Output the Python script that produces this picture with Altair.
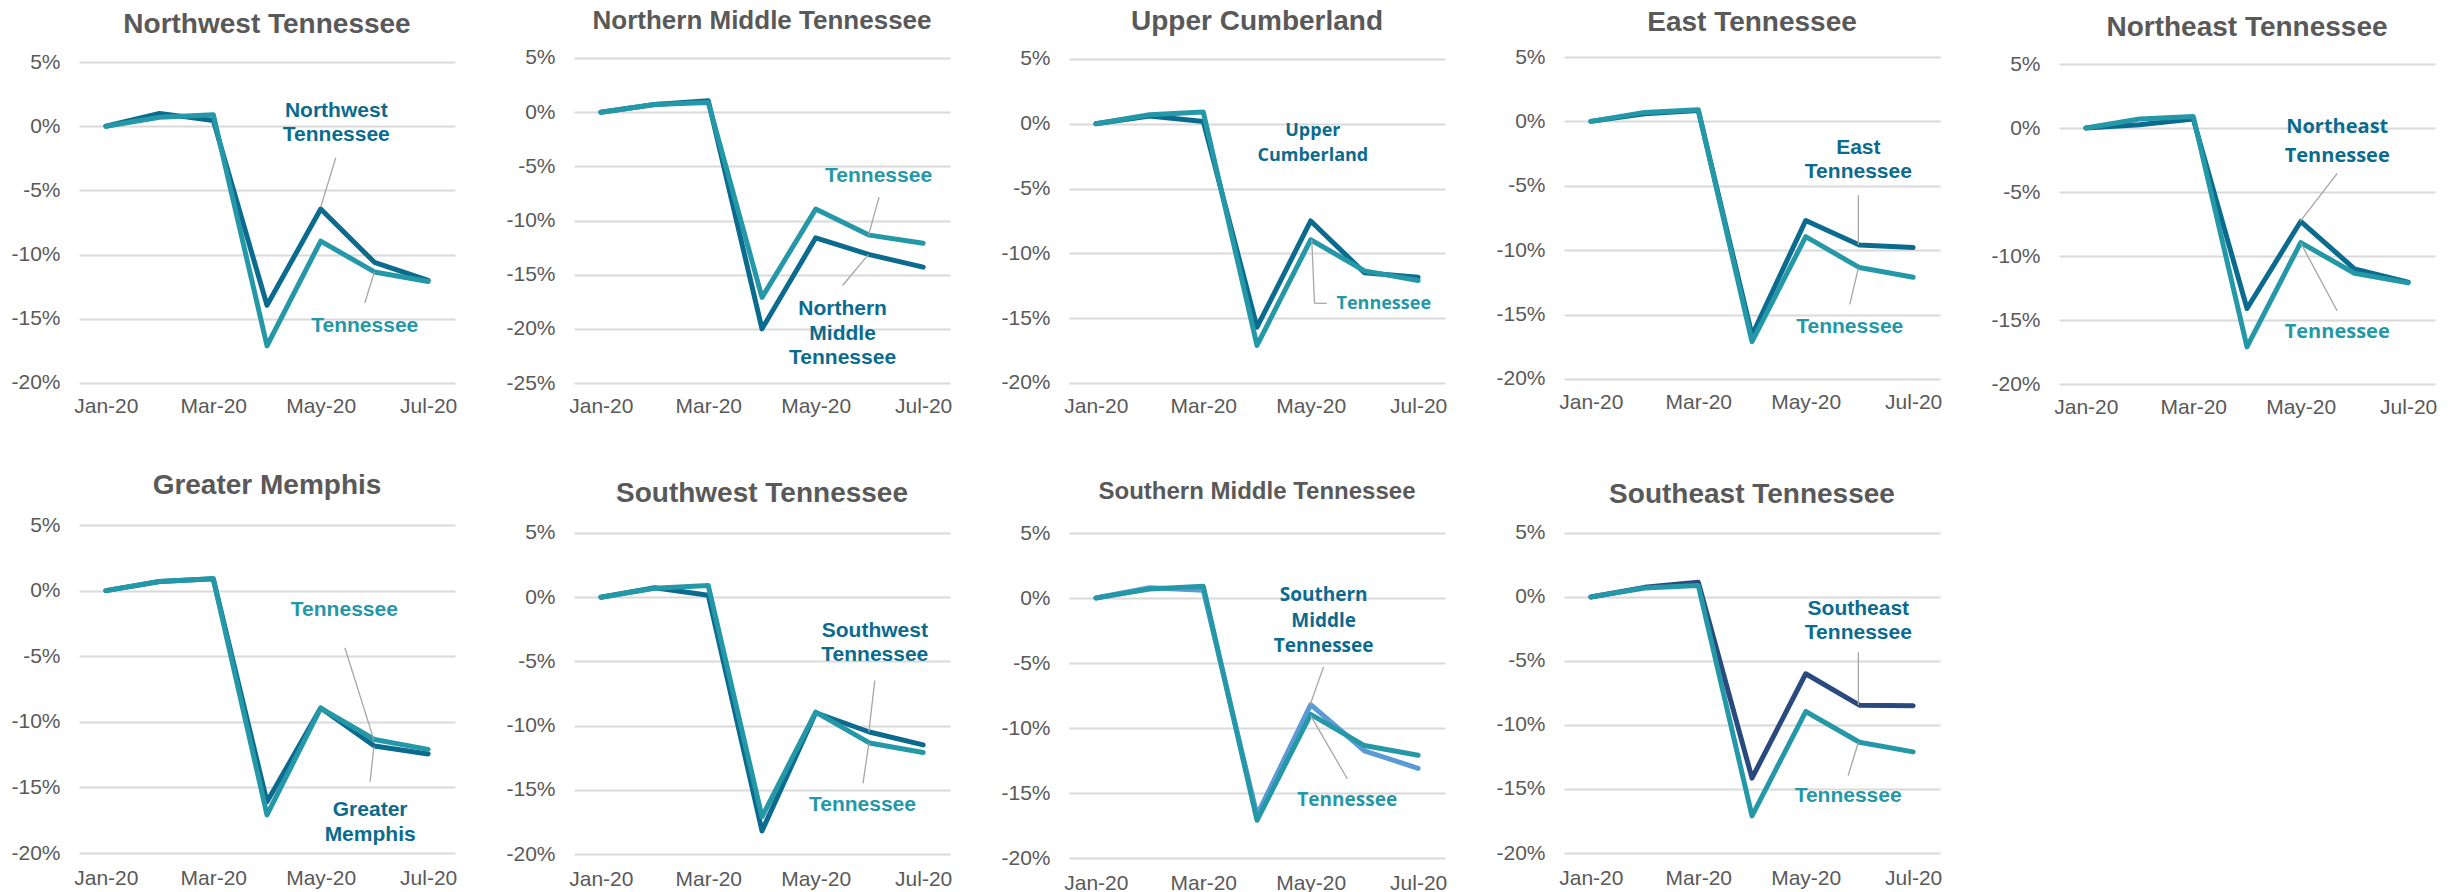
import altair as alt
import pandas as pd

# ---------------- data ----------------
MONTHS = ["Jan-20", "Feb-20", "Mar-20", "Apr-20", "May-20", "Jun-20", "Jul-20"]
TENNESSEE = [0.0, 0.7, 0.9, -17.1, -8.95, -11.35, -12.1]

NORTHWEST = [0.0, 1.0, 0.45, -13.95, -6.45, -10.6, -12.0]
NORTHERN_MIDDLE = [0.0, 0.7, 1.05, -20.0, -11.6, -13.15, -14.3]
UPPER_CUMBERLAND = [0.0, 0.6, 0.18, -15.7, -7.5, -11.5, -11.85]
EAST = [0.0, 0.6, 0.85, -16.6, -7.7, -9.6, -9.8]
NORTHEAST = [0.0, 0.25, 0.7, -14.1, -7.3, -11.0, -12.05]
GREATER_MEMPHIS = [0.0, 0.7, 0.9, -16.1, -8.95, -11.85, -12.45]
SOUTHWEST = [0.0, 0.73, 0.15, -18.2, -9.0, -10.5, -11.5]
SOUTHERN_MIDDLE = [0.0, 0.8, 0.6, -16.7, -8.2, -11.75, -13.1]
SOUTHEAST = [0.0, 0.75, 1.15, -14.15, -6.0, -8.45, -8.5]

REGIONS = ["Northwest Tennessee", "Northern Middle Tennessee", "Upper Cumberland",
           "East Tennessee", "Northeast Tennessee", "Greater Memphis",
           "Southwest Tennessee", "Southern Middle Tennessee", "Southeast Tennessee"]
REGION_VALUES = [NORTHWEST, NORTHERN_MIDDLE, UPPER_CUMBERLAND, EAST, NORTHEAST,
                 GREATER_MEMPHIS, SOUTHWEST, SOUTHERN_MIDDLE, SOUTHEAST]

# annotation labels: (text, x month index, y %, series)
LABELS = [
    [("Northwest", 4.29, 1.22, "r"), ("Tennessee", 4.29, -0.65, "r"), ("Tennessee", 4.82, -15.6, "t")],
    [("Tennessee", 5.17, -5.9, "t"), ("Northern", 4.5, -18.2, "r"), ("Middle", 4.5, -20.45, "r"), ("Tennessee", 4.5, -22.7, "r")],
    [("Upper", 4.04, -0.54, "r"), ("Cumberland", 4.04, -2.46, "r"), ("Tennessee", 5.36, -13.9, "t")],
    [("East", 4.98, -2.03, "r"), ("Tennessee", 4.98, -3.93, "r"), ("Tennessee", 4.82, -15.96, "t")],
    [("Northeast", 4.68, 0.1, "r"), ("Tennessee", 4.68, -2.16, "r"), ("Tennessee", 4.68, -15.96, "t")],
    [("Tennessee", 4.44, -1.48, "t"), ("Greater", 4.92, -16.7, "r"), ("Memphis", 4.92, -18.6, "r")],
    [("Southwest", 5.1, -2.64, "r"), ("Tennessee", 5.1, -4.5, "r"), ("Tennessee", 4.87, -16.17, "t")],
    [("Southern", 4.24, 0.26, "r"), ("Middle", 4.24, -1.74, "r"), ("Tennessee", 4.24, -3.67, "r"), ("Tennessee", 4.68, -15.5, "t")],
    [("Southeast", 4.98, -0.94, "r"), ("Tennessee", 4.98, -2.81, "r"), ("Tennessee", 4.79, -15.57, "t")],
]
# leader lines: (x, y, x2, y2) in month index / %
LEADERS = [
    [(4.28, -2.46, 4.0, -6.3), (4.82, -13.77, 5.0, -11.36)],
    [(5.18, -7.84, 4.98, -11.39), (4.5, -16.0, 4.98, -13.15)],
    [(4.30, -13.85, 4.07, -13.85), (4.07, -13.85, 4.02, -8.95)],
    [(4.98, -5.73, 4.98, -9.58), (4.82, -14.2, 4.98, -11.4)],
    [(4.68, -3.54, 3.99, -7.3), (4.68, -14.3, 4.0, -8.98)],
    [(4.45, -4.36, 4.99, -11.38), (4.92, -14.57, 4.99, -11.9)],
    [(5.1, -6.48, 4.99, -10.5), (4.88, -14.5, 4.99, -11.37)],
    [(4.24, -5.28, 3.99, -8.2), (4.68, -13.9, 4.0, -9.05)],
    [(4.98, -4.32, 4.98, -8.44), (4.79, -13.96, 4.98, -11.35)],
]

# ---------------- styles / layout ----------------
TN_COLOR = "#2598a8"
REGION_COLOR = "#0b6b8e"
LINE_COLORS = [REGION_COLOR] * 7 + ["#5b9bd5", "#2a4a7e"]
LABEL_COLORS = {"r": REGION_COLOR, "t": TN_COLOR}
GRAY = "#595959"
ARIAL = "Liberation Sans"
CALIBRI_LIKE = "Open Sans"

# (ymin, ymax, lowest tick, title size, title offset, x label padding, annot font, annot size)
PANEL_LAYOUT = [
    (-20.08, 5.39, -20, 28, 12.5, 11, ARIAL, 21),
    (-25.09, 5.09, -25, 26, 12.5, 11, ARIAL, 21),
    (-20.08, 5.15, -20, 28, 11.5, 11, CALIBRI_LIKE, 18),
    (-20.39, 5.00, -20, 28, 9.5, 7, ARIAL, 21),
    (-20.00, 5.55, -20, 28, 11.5, 12, CALIBRI_LIKE, 20),
    (-20.38, 5.00, -20, 28, 14.5, 9, ARIAL, 21),
    (-20.31, 5.62, -20, 28, 13.5, 10, ARIAL, 21),
    (-20.00, 5.62, -20, 24, 18.5, 14, CALIBRI_LIKE, 19),
    (-20.39, 5.62, -20, 28, 12.5, 9, ARIAL, 21),
]
ROW_HEIGHTS = [327, 333]
PANEL_W = 376

month_expr = "[" + ",".join("'%s'" % m for m in MONTHS) + "][datum.value]"


def make_panel(i):
    name = REGIONS[i]
    ymin, ymax, lowtick, tsize, toff, xlp, afont, asize = PANEL_LAYOUT[i]
    height = ROW_HEIGHTS[0] if i < 5 else ROW_HEIGHTS[1]
    yticks = list(range(5, lowtick - 1, -5))

    x = alt.X("m:Q", scale=alt.Scale(domain=[-0.5, 6.5], nice=False, zero=False),
              axis=alt.Axis(values=[0, 2, 4, 6], labelExpr=month_expr, title=None,
                            grid=False, domain=False, ticks=False, labelFlush=False,
                            labelPadding=xlp, labelFontSize=21, labelFont=ARIAL,
                            labelColor=GRAY, labelAngle=0, labelOverlap=False))
    y = alt.Y("v:Q", scale=alt.Scale(domain=[ymin, ymax], nice=False, zero=False),
              axis=alt.Axis(values=yticks, labelExpr="datum.value + '%'", title=None,
                            grid=True, gridColor="#d9d9d9", gridWidth=2, domain=False,
                            ticks=False, labelFlush=False, labelPadding=19,
                            labelFontSize=21, labelFont=ARIAL, labelColor=GRAY,
                            labelOverlap=False))

    reg_df = pd.DataFrame({"m": list(range(len(MONTHS))), "v": REGION_VALUES[i]})
    tn_df = pd.DataFrame({"m": list(range(len(MONTHS))), "v": TENNESSEE})

    reg_line = alt.Chart(reg_df).mark_line(
        strokeWidth=5, strokeCap="round", strokeJoin="round", color=LINE_COLORS[i]
    ).encode(x=x, y=y)
    tn_line = alt.Chart(tn_df).mark_line(
        strokeWidth=5, strokeCap="round", strokeJoin="round", color=TN_COLOR
    ).encode(x=x, y=y)

    lead_df = pd.DataFrame(LEADERS[i], columns=["m", "v", "m2", "v2"])
    leaders = alt.Chart(lead_df).mark_rule(color="#a6a6a6", strokeWidth=1.3).encode(
        x=x, y=y, x2="m2:Q", y2="v2:Q")

    lab_df = pd.DataFrame(LABELS[i], columns=["t", "m", "v", "s"])
    lab_df["c"] = lab_df["s"].map(LABEL_COLORS)
    labels = alt.Chart(lab_df).mark_text(
        font=afont, fontSize=asize, fontWeight="bold", align="center", baseline="middle"
    ).encode(x=x, y=y, text="t:N", color=alt.Color("c:N", scale=None, legend=None))

    return alt.layer(reg_line, tn_line, leaders, labels).properties(
        width=PANEL_W, height=height,
        title=alt.TitleParams(text=name, fontSize=tsize, font=ARIAL, fontWeight="bold",
                              color=GRAY, offset=toff, anchor="middle"))


panels = [make_panel(i) for i in range(len(REGIONS))]
chart = alt.concat(*panels, columns=5, spacing={"row": 141, "column": 119},
                   bounds="flush", align="each").properties(
    padding={"left": 2, "top": 0, "right": 5, "bottom": 5},
    background="white",
).configure_view(strokeWidth=0, stroke="transparent")

chart.save("out.html", embed_options={"renderer": "svg", "actions": False})
